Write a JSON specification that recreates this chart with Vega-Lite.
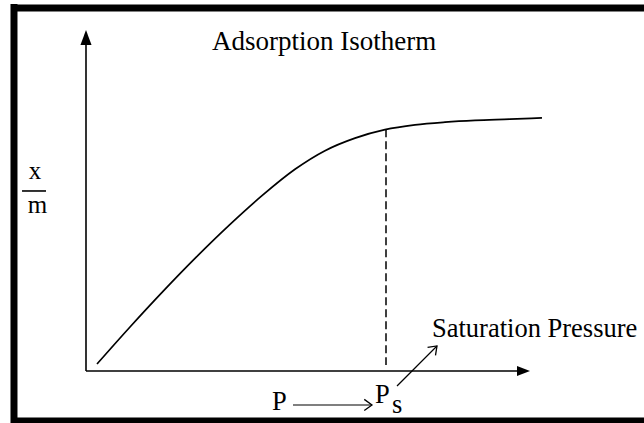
{
  "$schema": "https://vega.github.io/schema/vega-lite/v6.json",
  "width": 644,
  "height": 423,
  "padding": 0,
  "autosize": {"type": "none"},
  "background": "white",
  "config": {"view": {"stroke": null}},
  "datasets": {
    "curve": [
      {"p": 0.248, "q": 0.203},
      {"p": 0.991, "q": 1.279},
      {"p": 1.734, "q": 2.314},
      {"p": 2.477, "q": 3.302},
      {"p": 3.221, "q": 4.233},
      {"p": 3.964, "q": 5.096},
      {"p": 4.707, "q": 5.863},
      {"p": 5.383, "q": 6.404},
      {"p": 6.059, "q": 6.77},
      {"p": 6.734, "q": 7.015},
      {"p": 7.41, "q": 7.154},
      {"p": 8.086, "q": 7.233},
      {"p": 8.761, "q": 7.285},
      {"p": 9.55, "q": 7.32},
      {"p": 10.27, "q": 7.358}
    ],
    "frame": [
      {"x1": -1.622, "y1": 10.669, "x2": -1.622, "y2": -1.512},
      {"x1": -1.689, "y1": 10.552, "x2": 12.568, "y2": 10.552},
      {"x1": -1.689, "y1": -1.453, "x2": 12.568, "y2": -1.453}
    ],
    "axes": [
      {"x1": 0, "y1": 0, "x2": 0, "y2": 9.59},
      {"x1": 0, "y1": 0, "x2": 9.75, "y2": 0},
      {"x1": -1.441, "y1": 5.233, "x2": -0.901, "y2": 5.233}
    ],
    "arrows": [
      {"x1": 4.662, "y1": -0.988, "x2": 6.441, "y2": -0.988},
      {"x1": 7.005, "y1": -0.436, "x2": 7.905, "y2": 0.727}
    ],
    "dashed": [
      {"x1": 6.757, "y1": 7.03, "x2": 6.757, "y2": 0.174}
    ],
    "heads": [
      {"x": 0, "y": 9.692, "kind": "up"},
      {"x": 9.854, "y": 0, "kind": "right"}
    ],
    "chevrons": [
      {"x": 6.441, "y": -0.988, "a": 0},
      {"x": 7.905, "y": 0.727, "a": -45}
    ],
    "labels": [
      {"t": "Adsorption Isotherm", "x": 2.838, "y": 9.331, "s": "title"},
      {"t": "Saturation Pressure", "x": 7.793, "y": 0.988, "s": "lab"},
      {"t": "P", "x": 4.189, "y": -1.134, "s": "lab"},
      {"t": "P", "x": 6.509, "y": -0.93, "s": "lab"},
      {"t": "s", "x": 6.892, "y": -1.221, "s": "lab"}
    ],
    "frac": [
      {"t": "x", "x": -1.149, "y": 5.581},
      {"t": "m", "x": -1.092, "y": 4.593}
    ]
  },
  "layer": [
    {
      "data": {"name": "frame"},
      "mark": {"type": "rule", "color": "black", "strokeWidth": 7},
      "encoding": {
        "x": {"field": "x1", "type": "quantitative", "scale": {"domain": [-1.937, 12.568], "nice": false, "zero": false}, "axis": null},
        "y": {"field": "y1", "type": "quantitative", "scale": {"domain": [-1.512, 10.785], "nice": false, "zero": false}, "axis": null},
        "x2": {"field": "x2"},
        "y2": {"field": "y2"}
      }
    },
    {
      "data": {"name": "axes"},
      "mark": {"type": "rule", "color": "black", "strokeWidth": 1.6},
      "encoding": {
        "x": {"field": "x1", "type": "quantitative"},
        "y": {"field": "y1", "type": "quantitative"},
        "x2": {"field": "x2"},
        "y2": {"field": "y2"}
      }
    },
    {
      "data": {"name": "arrows"},
      "mark": {"type": "rule", "color": "black", "strokeWidth": 1.2},
      "encoding": {
        "x": {"field": "x1", "type": "quantitative"},
        "y": {"field": "y1", "type": "quantitative"},
        "x2": {"field": "x2"},
        "y2": {"field": "y2"}
      }
    },
    {
      "data": {"name": "dashed"},
      "mark": {"type": "rule", "color": "black", "strokeWidth": 1.5, "strokeDash": [8, 4]},
      "encoding": {
        "x": {"field": "x1", "type": "quantitative"},
        "y": {"field": "y1", "type": "quantitative"},
        "x2": {"field": "x2"},
        "y2": {"field": "y2"}
      }
    },
    {
      "data": {"name": "curve"},
      "mark": {"type": "line", "color": "black", "strokeWidth": 1.7, "interpolate": "monotone"},
      "encoding": {
        "x": {"field": "p", "type": "quantitative"},
        "y": {"field": "q", "type": "quantitative"}
      }
    },
    {
      "data": {"name": "heads"},
      "transform": [{"filter": "datum.kind === 'up'"}],
      "mark": {"type": "point", "filled": true, "color": "black", "opacity": 1, "size": 196, "shape": "M0,-1.07L0.79,1.07L-0.79,1.07Z"},
      "encoding": {
        "x": {"field": "x", "type": "quantitative"},
        "y": {"field": "y", "type": "quantitative"}
      }
    },
    {
      "data": {"name": "heads"},
      "transform": [{"filter": "datum.kind === 'right'"}],
      "mark": {"type": "point", "filled": true, "color": "black", "opacity": 1, "size": 196, "shape": "M0.93,0L-0.93,-0.71L-0.93,0.71Z"},
      "encoding": {
        "x": {"field": "x", "type": "quantitative"},
        "y": {"field": "y", "type": "quantitative"}
      }
    },
    {
      "data": {"name": "chevrons"},
      "mark": {"type": "point", "filled": false, "color": "black", "opacity": 1, "strokeWidth": 1.3, "size": 196, "shape": "M-1.1,-0.8L0,0L-1.1,0.8"},
      "encoding": {
        "x": {"field": "x", "type": "quantitative"},
        "y": {"field": "y", "type": "quantitative"},
        "angle": {"field": "a", "type": "quantitative", "scale": null}
      }
    },
    {
      "data": {"name": "labels"},
      "transform": [{"filter": "datum.s === 'title'"}],
      "mark": {"type": "text", "align": "left", "baseline": "alphabetic", "font": "Liberation Serif", "fontSize": 27, "color": "black"},
      "encoding": {
        "x": {"field": "x", "type": "quantitative"},
        "y": {"field": "y", "type": "quantitative"},
        "text": {"field": "t"}
      }
    },
    {
      "data": {"name": "labels"},
      "transform": [{"filter": "datum.s === 'lab'"}],
      "mark": {"type": "text", "align": "left", "baseline": "alphabetic", "font": "Liberation Serif", "fontSize": 26.5, "color": "black"},
      "encoding": {
        "x": {"field": "x", "type": "quantitative"},
        "y": {"field": "y", "type": "quantitative"},
        "text": {"field": "t"}
      }
    },
    {
      "data": {"name": "frac"},
      "mark": {"type": "text", "align": "center", "baseline": "alphabetic", "font": "Liberation Serif", "fontSize": 25, "color": "black"},
      "encoding": {
        "x": {"field": "x", "type": "quantitative"},
        "y": {"field": "y", "type": "quantitative"},
        "text": {"field": "t"}
      }
    }
  ]
}
